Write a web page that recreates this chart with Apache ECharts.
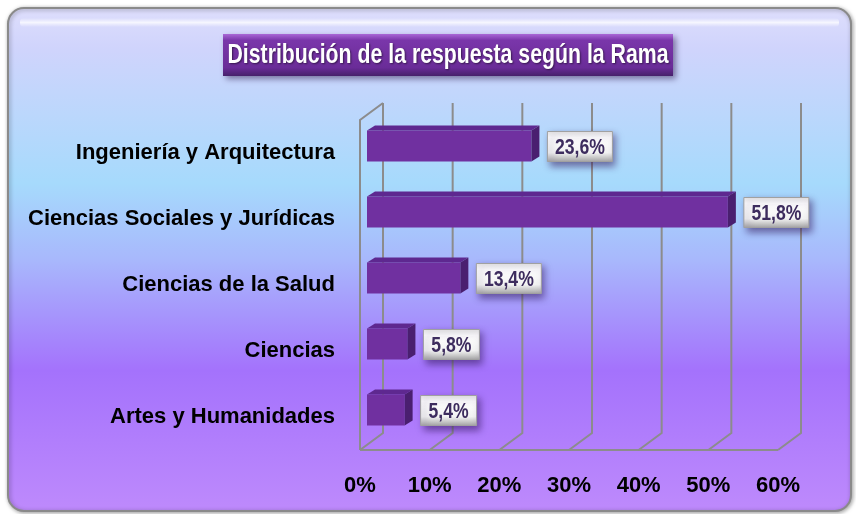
<!DOCTYPE html>
<html>
<head>
<meta charset="utf-8">
<script src="https://cdn.jsdelivr.net/npm/echarts@6/dist/echarts.min.js"></script>
<style>
    html, body { margin: 0; padding: 0; background: #fff; }
    #chart { width: 856px; height: 514px; }
</style>
</head>
<body>
<div id="chart"></div>
<script>
    // datos
    const categorias = ['Ingeniería y Arquitectura', 'Ciencias Sociales y Jurídicas', 'Ciencias de la Salud', 'Ciencias', 'Artes y Humanidades'];
    const porcentajes = [23.6, 51.8, 13.4, 5.8, 5.4];
    const etiquetas = ['23,6%', '51,8%', '13,4%', '5,8%', '5,4%'];
    const ticks = [0, 10, 20, 30, 40, 50, 60];
    const titulo = 'Distribución de la respuesta según la Rama';

    const FONT = '"Liberation Sans", Arial, sans-serif';
    const DX = 23, DY = 17; // profundidad de la pared
    const BX = 8, BY = 5;   // profundidad de la barra

    let chart = echarts.init(document.getElementById('chart'));

    const option = {
        animation: false,
        graphic: [
            {
                type: 'rect',
                z: -10,
                shape: { x: 8, y: 8, width: 843, height: 503, r: 16 },
                style: {
                    fill: new echarts.graphic.LinearGradient(0, 0, 0, 1, [
                        { offset: 0, color: '#dedefc' },
                        { offset: 0.08, color: '#d0d4fc' },
                        { offset: 0.35, color: '#a6dafc' },
                        { offset: 0.5, color: '#a8b8fc' },
                        { offset: 0.72, color: '#a472fc' },
                        { offset: 1, color: '#be8afc' }
                    ]),
                    stroke: '#8a8a8a',
                    lineWidth: 2,
                    shadowBlur: 4,
                    shadowColor: 'rgba(0,0,0,0.35)',
                    shadowOffsetX: 1,
                    shadowOffsetY: 1
                }
            },
            {
                // brillo superior del marco
                type: 'rect',
                z: -9,
                silent: true,
                shape: { x: 20, y: 18, width: 819, height: 9, r: 4 },
                style: {
                    fill: new echarts.graphic.LinearGradient(0, 0, 0, 1, [
                        { offset: 0, color: 'rgba(255,255,255,0)' },
                        { offset: 0.5, color: 'rgba(255,255,255,0.75)' },
                        { offset: 1, color: 'rgba(255,255,255,0)' }
                    ])
                }
            },
            {
                type: 'group',
                z: 10,
                children: [
                    {
                        type: 'rect',
                        shape: { x: 223, y: 34, width: 450, height: 42 },
                        style: {
                            fill: new echarts.graphic.LinearGradient(0, 0, 0, 1, [
                                { offset: 0, color: '#a968d6' },
                                { offset: 0.15, color: '#7a36aa' },
                                { offset: 0.8, color: '#6a2c98' },
                                { offset: 1, color: '#46206a' }
                            ]),
                            shadowBlur: 6,
                            shadowColor: 'rgba(40,20,70,0.5)',
                            shadowOffsetX: 3,
                            shadowOffsetY: 3
                        }
                    },
                    {
                        type: 'text',
                        x: 448, y: 55,
                        scaleX: 0.76,
                        style: {
                            x: 0, y: 0,
                            text: titulo,
                            fill: '#ffffff',
                            font: 'bold 28px ' + FONT,
                            align: 'center',
                            verticalAlign: 'middle',
                            textShadowColor: 'rgba(0,0,0,0.5)',
                            textShadowBlur: 2,
                            textShadowOffsetX: 1,
                            textShadowOffsetY: 1
                        }
                    }
                ]
            }
        ],
        grid: {
            left: 360,
            right: 78,
            top: 120,
            bottom: 64
        },
        xAxis: {
            type: 'value',
            min: 0,
            max: 60,
            interval: 10,
            axisLine: { show: false },
            axisTick: { show: false },
            splitLine: { show: false },
            axisLabel: {
                formatter: '{value}%',
                margin: 25,
                color: '#000',
                fontSize: 22,
                fontWeight: 'bold',
                fontFamily: FONT
            }
        },
        yAxis: {
            type: 'category',
            inverse: true,
            data: categorias,
            axisLine: { show: false },
            axisTick: { show: false },
            axisLabel: {
                margin: 25,
                color: '#000',
                fontSize: 22,
                fontWeight: 'bold',
                fontFamily: FONT
            }
        },
        series: [
            {
                // pared y suelo en perspectiva
                type: 'custom',
                z: 1,
                silent: true,
                data: ticks,
                renderItem: function (params, api) {
                    const cs = params.coordSys;
                    const fx = api.coord([api.value(0), 0])[0];
                    const floorY = cs.y + cs.height;
                    const st = { stroke: '#8c8c8c', lineWidth: 2, fill: null };
                    const kids = [
                        { type: 'polyline', shape: { points: [[fx, floorY], [fx + DX, floorY - DY], [fx + DX, cs.y - DY]] }, style: st }
                    ];
                    if (params.dataIndex === 0) {
                        kids.push({ type: 'polyline', shape: { points: [[fx, floorY], [fx, cs.y], [fx + DX, cs.y - DY]] }, style: st });
                        kids.push({ type: 'line', shape: { x1: fx, y1: floorY, x2: cs.x + cs.width, y2: floorY }, style: st });
                    }
                    return { type: 'group', children: kids };
                }
            },
            {
                // barras 3D con etiqueta
                type: 'custom',
                z: 2,
                data: porcentajes.map(function (v, i) { return [v, i]; }),
                encode: { x: 0, y: 1 },
                renderItem: function (params, api) {
                    const i = api.value(1);
                    const p0 = api.coord([0, i]);
                    const p1 = api.coord([api.value(0), i]);
                    const band = api.size([0, 1])[1];
                    const h = band * 0.47;
                    const x = p0[0] + 7;
                    const w = p1[0] - p0[0];
                    const y = p0[1] - 7 - h / 2;
                    const txt = etiquetas[params.dataIndex];
                    const lw = 20 + txt.length * 9;
                    const lx = x + w + 16;
                    const ly = y + 1;
                    return {
                        type: 'group',
                        children: [
                            { type: 'rect', shape: { x: x, y: y, width: w, height: h }, style: { fill: '#7030a0' } },
                            { type: 'polygon', shape: { points: [[x, y], [x + BX, y - BY], [x + w + BX, y - BY], [x + w, y]] }, style: { fill: '#5e2890' } },
                            { type: 'polygon', shape: { points: [[x + w, y], [x + w + BX, y - BY], [x + w + BX, y + h - BY], [x + w, y + h]] }, style: { fill: '#4a1f70' } },
                            {
                                type: 'rect',
                                shape: { x: lx, y: ly, width: lw, height: h - 1 },
                                style: {
                                    fill: new echarts.graphic.LinearGradient(0, 0, 0, 1, [
                                        { offset: 0, color: '#e4e4e4' },
                                        { offset: 0.2, color: '#ffffff' },
                                        { offset: 0.7, color: '#f2f2f2' },
                                        { offset: 1, color: '#a4a4a4' }
                                    ]),
                                    stroke: '#a0a0a0',
                                    lineWidth: 1,
                                    shadowBlur: 7,
                                    shadowColor: 'rgba(50,20,90,0.55)',
                                    shadowOffsetX: 3,
                                    shadowOffsetY: 4
                                }
                            },
                            {
                                type: 'text',
                                x: lx + lw / 2,
                                y: ly + (h - 1) / 2 + 1,
                                scaleX: 0.8,
                                style: {
                                    x: 0, y: 0,
                                    text: txt,
                                    fill: '#3d2c5e',
                                    font: 'bold 22px ' + FONT,
                                    align: 'center',
                                    verticalAlign: 'middle'
                                }
                            }
                        ]
                    };
                }
            }
        ]
    };

    chart.setOption(option);

    window.addEventListener('resize', function () {
        chart.resize();
    });
</script>
</body>
</html>
